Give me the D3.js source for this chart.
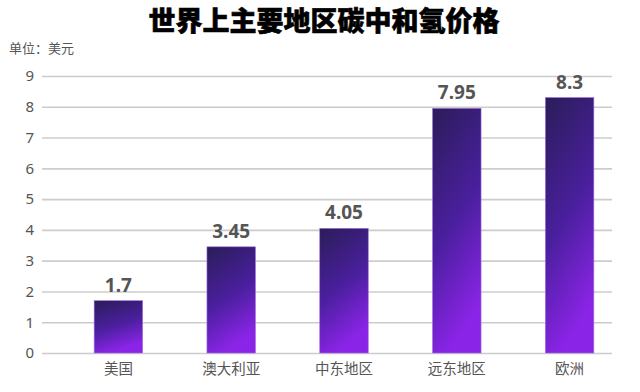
<!DOCTYPE html>
<html>
<head>
<meta charset="utf-8">
<script src="https://cdn.jsdelivr.net/npm/d3@7"></script>
<style>
  body { margin: 0; background: #fff; }
  text { font-family: "Noto Sans CJK SC", "Noto Sans", sans-serif; }
</style>
</head>
<body>
<div id="chart"></div>
<script>
const regions = ["美国", "澳大利亚", "中东地区", "远东地区", "欧洲"];
const prices = [1.7, 3.45, 4.05, 7.95, 8.3];
const yTicks = [0, 1, 2, 3, 4, 5, 6, 7, 8, 9];

const svgWidth = 640;
const svgHeight = 392;
const margins = {top: 76, right: 28, bottom: 39, left: 42};
const chartWidth = svgWidth - margins.left - margins.right;
const chartHeight = svgHeight - margins.top - margins.bottom;

const svg = d3.select("#chart")
    .append("svg")
    .attr("width", svgWidth)
    .attr("height", svgHeight);

const defs = svg.append("defs");
const grad = defs.append("linearGradient")
    .attr("id", "barGrad")
    .attr("x1", "0").attr("y1", "0")
    .attr("x2", "0.3").attr("y2", "1");
grad.append("stop").attr("offset", "0%").attr("stop-color", "#2a1d58");
grad.append("stop").attr("offset", "55%").attr("stop-color", "#4a1f9e");
grad.append("stop").attr("offset", "100%").attr("stop-color", "#8a24e6");

svg.append("text")
    .attr("x", svgWidth / 2 + 4)
    .attr("y", 31)
    .attr("text-anchor", "middle")
    .attr("font-size", 27)
    .attr("font-weight", 900)
    .style("fill", "#000")
    .style("stroke", "#000")
    .style("stroke-width", 0.6)
    .text("世界上主要地区碳中和氢价格");

svg.append("text")
    .attr("x", 9)
    .attr("y", 53)
    .attr("font-size", 13)
    .style("fill", "#555")
    .text("单位：美元");

const chartGroup = svg.append("g")
    .attr("transform", `translate(${margins.left}, ${margins.top})`);

const xScale = d3.scaleBand()
    .domain(regions)
    .range([20, chartWidth + 14])
    .paddingInner(0.57)
    .paddingOuter(0.285);

const yScale = d3.scaleLinear()
    .domain([0, 9])
    .range([chartHeight, 0]);

const yAxis = d3.axisLeft(yScale)
    .tickValues(yTicks)
    .tickSize(-chartWidth)
    .tickPadding(8);

chartGroup.append("g")
    .attr("class", "yaxis")
    .call(yAxis)
    .call(g => g.select(".domain").remove())
    .call(g => g.selectAll(".tick line").attr("stroke", "#cccccc").attr("stroke-width", 1.6))
    .call(g => g.selectAll(".tick text")
        .attr("font-size", 15)
        .style("fill", "#555")
        .style("font-family", "'Noto Sans', sans-serif"));

chartGroup.selectAll(".bar")
    .data(prices)
    .enter()
    .append("rect")
    .attr("class", "bar")
    .attr("x", (d, i) => xScale(regions[i]))
    .attr("y", d => yScale(d))
    .attr("width", xScale.bandwidth())
    .attr("height", d => chartHeight - yScale(d))
    .style("fill", "url(#barGrad)")
    .style("stroke", "#a070e0")
    .style("stroke-width", 0.6);

chartGroup.selectAll(".valueLabel")
    .data(prices)
    .enter()
    .append("text")
    .attr("class", "valueLabel")
    .attr("x", (d, i) => xScale(regions[i]) + xScale.bandwidth() / 2)
    .attr("y", d => yScale(d) - 9)
    .attr("text-anchor", "middle")
    .attr("font-size", 19)
    .attr("font-weight", "bold")
    .style("font-family", "'Noto Sans', sans-serif")
    .style("fill", "#555")
    .text(d => d);

const xAxis = d3.axisBottom(xScale).tickSize(0).tickPadding(11);

chartGroup.append("g")
    .attr("class", "xaxis")
    .attr("transform", `translate(0, ${chartHeight})`)
    .call(xAxis)
    .call(g => g.select(".domain").remove())
    .call(g => g.selectAll(".tick text")
        .attr("font-size", 14.5)
        .style("fill", "#555"));
</script>
</body>
</html>
